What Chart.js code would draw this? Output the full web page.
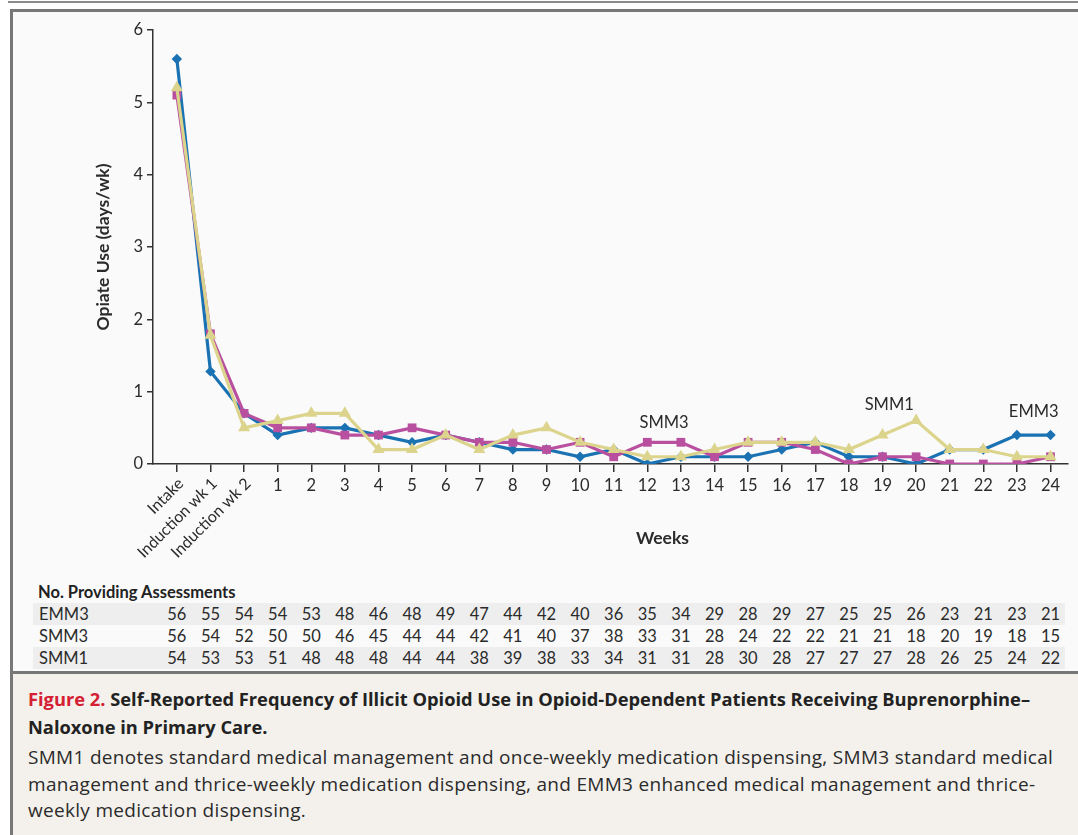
<!DOCTYPE html>
<html><head><meta charset="utf-8">
<script src="https://cdn.jsdelivr.net/npm/chart.js@4"></script>
<style>
html,body{margin:0;padding:0;}
body{width:1078px;height:835px;position:relative;overflow:hidden;background:#fff;font-family:Lato,"Open Sans",sans-serif;color:#2b2b2b;}
#topline{position:absolute;left:8px;top:1px;width:1070px;height:2px;background:#8a8a8a;}
#box{position:absolute;left:10px;top:9px;width:1080px;height:840px;border-left:3px solid #777;border-top:3px solid #777;background:#fafafa;box-sizing:border-box;}
#divider{position:absolute;left:10px;top:671px;width:1068px;height:3px;background:#777;}
#capbg{position:absolute;left:13px;top:674px;width:1065px;height:161px;background:#f4f1ec;}
canvas{position:absolute;left:0;top:0;}
.stripe{position:absolute;left:33px;width:1032px;height:22px;background:#eeeeee;}
.rowlab{position:absolute;left:39px;font-size:16.5px;line-height:22px;}
.num{position:absolute;font-size:16.5px;line-height:22px;transform:translateX(-50%);}
#hdr{position:absolute;left:38px;top:581px;font-size:16.5px;font-weight:bold;line-height:22px;color:#222;}
#cap{position:absolute;left:28px;top:685px;width:1048px;font-family:"Open Sans",Lato,sans-serif;white-space:nowrap;}
#cap .t{font-weight:bold;font-size:18.3px;line-height:28px;color:#222;}
#cap .t span{color:#d42032;}
#cap .b{font-size:19px;line-height:26.5px;margin-top:3px;color:#2b2b2b;letter-spacing:0.3px;}
</style></head>
<body>
<div id="topline"></div>
<div id="box"></div>
<div id="divider"></div>
<div id="capbg"></div>
<canvas id="c" width="1078" height="580"></canvas>
<div id="tbl"></div>
<div id="cap">
<div class="t"><span>Figure 2.</span> Self-Reported Frequency of Illicit Opioid Use in Opioid-Dependent Patients Receiving Buprenorphine–<br>Naloxone in Primary Care.</div>
<div class="b">SMM1 denotes standard medical management and once-weekly medication dispensing, SMM3 standard medical<br>management and thrice-weekly medication dispensing, and EMM3 enhanced medical management and thrice-<br>weekly medication dispensing.</div>
</div>
<script>
const categories = ['Intake','Induction wk 1','Induction wk 2','1','2','3','4','5','6','7','8','9','10','11','12','13','14','15','16','17','18','19','20','21','22','23','24'];
const seriesNames = ['EMM3','SMM3','SMM1'];
const emm3 = [5.6,1.28,0.7,0.4,0.5,0.5,0.4,0.3,0.4,0.3,0.2,0.2,0.1,0.2,0.0,0.1,0.1,0.1,0.2,0.3,0.1,0.1,0.0,0.2,0.2,0.4,0.4];
const smm3 = [5.1,1.8,0.7,0.5,0.5,0.4,0.4,0.5,0.4,0.3,0.3,0.2,0.3,0.1,0.3,0.3,0.1,0.3,0.3,0.2,0.0,0.1,0.1,0.0,0.0,0.0,0.1];
const smm1 = [5.2,1.78,0.5,0.6,0.7,0.7,0.2,0.2,0.4,0.2,0.4,0.5,0.3,0.2,0.1,0.1,0.2,0.3,0.3,0.3,0.2,0.4,0.6,0.2,0.2,0.1,0.1];
const emm3N = [56,55,54,54,53,48,46,48,49,47,44,42,40,36,35,34,29,28,29,27,25,25,26,23,21,23,21];
const smm3N = [56,54,52,50,50,46,45,44,44,42,41,40,37,38,33,31,28,24,22,22,21,21,18,20,19,18,15];
const smm1N = [54,53,53,51,48,48,48,44,44,38,39,38,33,34,31,31,28,30,28,27,27,27,28,26,25,24,22];
const yTicks = [0,1,2,3,4,5,6];
const annotations = [{text:'SMM3', x:14.5, y:0.57},{text:'SMM1', x:21.2, y:0.82},{text:'EMM3', x:25.5, y:0.72}];

const pts = arr => arr.map((v,i)=>({x:i,y:v}));
const FONT = 'Lato, "Open Sans", sans-serif';
const TXT = '#2b2b2b';

const extras = {
  id:'extras',
  afterDraw(chart){
    const ctx = chart.ctx, xs = chart.scales.x, ys = chart.scales.y;
    ctx.save();
    ctx.fillStyle = TXT;
    ctx.font = '16px ' + FONT;
    ctx.textAlign = 'right'; ctx.textBaseline = 'middle';
    for (let i=0;i<3;i++){
      const px = xs.getPixelForValue(i);
      ctx.save();
      ctx.translate(px+4, 481);
      ctx.rotate(-Math.PI/4);
      ctx.fillText(categories[i],0,0);
      ctx.restore();
    }
    ctx.font = '16.5px ' + FONT;
    ctx.textAlign = 'center';
    annotations.forEach(a=>{
      ctx.fillText(a.text, xs.getPixelForValue(a.x), ys.getPixelForValue(a.y));
    });
    ctx.font = 'bold 17.5px ' + FONT;
    ctx.fillText('Weeks', xs.getPixelForValue(14.45), 538);
    ctx.save();
    ctx.translate(103, (ys.top+ys.bottom)/2);
    ctx.rotate(-Math.PI/2);
    ctx.fillText('Opiate Use (days/wk)',0,0);
    ctx.restore();
    ctx.restore();
    const tbl = document.getElementById('tbl');
    if (!tbl.dataset.done){
      tbl.dataset.done='1';
      const rows = [[seriesNames[0],emm3N,614,true],[seriesNames[1],smm3N,636,false],[seriesNames[2],smm1N,658,true]];
      let html = '<div id="hdr">No. Providing Assessments</div>';
      rows.forEach(r=>{
        if (r[3]) html += `<div class="stripe" style="top:${r[2]-11}px"></div>`;
        html += `<div class="rowlab" style="top:${r[2]-11}px">${r[0]}</div>`;
        r[1].forEach((n,i)=>{
          html += `<div class="num" style="top:${r[2]-11}px;left:${xs.getPixelForValue(i)}px">${n}</div>`;
        });
      });
      tbl.innerHTML = html;
    }
  }
};

const mk = (label,data,color,style,radius,order)=>({
  label, data:pts(data), borderColor:color, backgroundColor:color,
  borderWidth:3.2, pointStyle:style, pointRadius:radius, pointHoverRadius:radius,
  pointBorderWidth:0, tension:0, order
});

new Chart(document.getElementById('c'),{
  type:'line',
  data:{datasets:[
    mk(seriesNames[0],emm3,'#1a72b3','rectRot',5.2,2),
    mk(seriesNames[1],smm3,'#b94f9f','rect',6.2,1),
    mk(seriesNames[2],smm1,'#dcd48c','triangle',7,0)
  ]},
  options:{
    responsive:false, animation:false, devicePixelRatio:1,
    layout:{padding:{left:0,top:30,right:10,bottom:0}},
    plugins:{legend:{display:false},tooltip:{enabled:false}},
    scales:{
      x:{type:'linear',min:-0.71,max:26.52,
        afterFit:s=>{s.height=116;},
        afterBuildTicks:s=>{s.ticks = categories.map((c,i)=>({value:i}));},
        grid:{drawOnChartArea:false,drawTicks:true,tickLength:8,color:'#333',lineWidth:1.5},
        border:{display:true,color:'#333',width:1.5},
        ticks:{autoSkip:false,maxRotation:0,minRotation:0,padding:4,color:TXT,font:{family:FONT,size:16.5},
          callback:(v)=> v>=3 ? categories[v] : ''}
      },
      y:{min:0,max:6,
        afterFit:s=>{s.width=153;},
        afterBuildTicks:s=>{s.ticks = yTicks.map(v=>({value:v}));},
        grid:{drawOnChartArea:false,drawTicks:true,tickLength:6,color:'#333',lineWidth:1.5},
        border:{display:true,color:'#333',width:1.5},
        ticks:{padding:4,color:TXT,font:{family:FONT,size:16.5}}
      }
    }
  },
  plugins:[extras]
});
</script>
</body></html>
